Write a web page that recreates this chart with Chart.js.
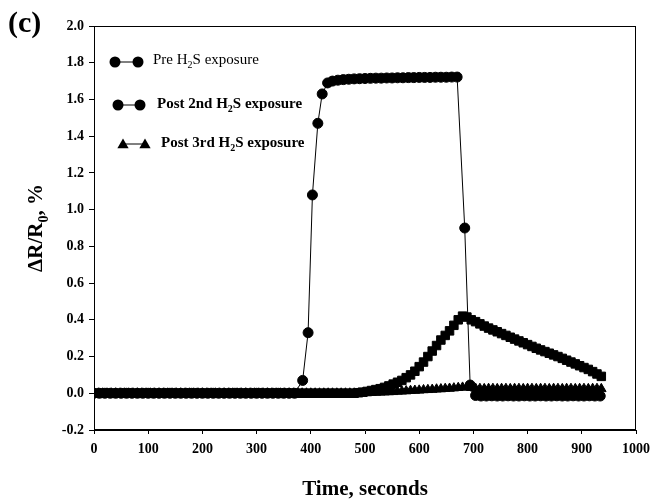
<!DOCTYPE html>
<html>
<head>
<meta charset="utf-8">
<script src="https://cdn.jsdelivr.net/npm/chart.js@4.4.1/dist/chart.umd.min.js"></script>
<style>
  html, body { margin: 0; padding: 0; background: #fff; }
  #wrap { width: 651px; height: 501px; }
</style>
</head>
<body>
<div id="wrap"><canvas id="h2s_chart"></canvas></div>
<script>
// Pre H2S exposure (circles)
const pre_time = [
  0, 10, 20, 30, 40, 50, 60, 70, 80, 90,
  100, 110, 120, 130, 140, 150, 160, 170, 180, 190,
  200, 210, 220, 230, 240, 250, 260, 270, 280, 290,
  300, 310, 320, 330, 340, 350, 360, 370,
  385, 395, 403, 413, 421, 431,
  440, 450, 460, 470, 480, 490, 500, 510, 520, 530,
  540, 550, 560, 570, 580, 590, 600, 610, 620, 630,
  640, 650, 660, 670,
  684, 694,
  704, 714, 724, 734, 744, 754, 764, 774, 784, 794,
  804, 814, 824, 834, 844, 854, 864, 874, 884, 894,
  904, 914, 924, 934
];
const pre_values = [
  0, 0, 0, 0, 0, 0, 0, 0, 0, 0,
  0, 0, 0, 0, 0, 0, 0, 0, 0, 0,
  0, 0, 0, 0, 0, 0, 0, 0, 0, 0,
  0, 0, 0, 0, 0, 0, 0, 0,
  0.07, 0.33, 1.08, 1.47, 1.63, 1.69,
  1.70, 1.705, 1.708, 1.71, 1.712, 1.713, 1.714, 1.715, 1.716, 1.716,
  1.717, 1.717, 1.718, 1.718, 1.719, 1.719, 1.72, 1.72, 1.72, 1.721,
  1.721, 1.721, 1.722, 1.722,
  0.90, 0.045,
  -0.012, -0.015, -0.015, -0.014, -0.015, -0.015, -0.014, -0.015, -0.015, -0.014,
  -0.015, -0.015, -0.014, -0.015, -0.015, -0.014, -0.015, -0.015, -0.014, -0.015,
  -0.015, -0.014, -0.015, -0.015
];

// Post 2nd and Post 3rd exposures share the same sampling
const post_time = [
  0, 8, 16, 24, 32, 40, 48, 56, 64, 72,
  80, 88, 96, 104, 112, 120, 128, 136, 144, 152,
  160, 168, 176, 184, 192, 200, 208, 216, 224, 232,
  240, 248, 256, 264, 272, 280, 288, 296, 304, 312,
  320, 328, 336, 344, 352, 360, 368, 376, 384, 392,
  400, 408, 416, 424, 432, 440, 448, 456, 464, 472,
  480,
  488, 496, 504, 512, 520, 528, 536, 544, 552, 560,
  568, 576, 584, 592, 600, 608, 616, 624, 632, 640,
  648, 656, 664, 672, 680, 688, 696, 704, 712, 720,
  728, 736, 744, 752, 760, 768, 776, 784, 792, 800,
  808, 816, 824, 832, 840, 848, 856, 864, 872, 880,
  888, 896, 904, 912, 920, 928, 936
];
const post2_values = [
  0, 0, 0, 0, 0, 0, 0, 0, 0, 0,
  0, 0, 0, 0, 0, 0, 0, 0, 0, 0,
  0, 0, 0, 0, 0, 0, 0, 0, 0, 0,
  0, 0, 0, 0, 0, 0, 0, 0, 0, 0,
  0, 0, 0, 0, 0, 0, 0, 0, 0, 0,
  0, 0, 0, 0, 0, 0, 0, 0, 0, 0,
  0,
  0.003, 0.006, 0.01, 0.015, 0.02, 0.025, 0.032, 0.04, 0.05, 0.06,
  0.07, 0.085, 0.1, 0.12, 0.145, 0.17, 0.2, 0.23, 0.26, 0.29,
  0.315, 0.34, 0.37, 0.4, 0.42, 0.415, 0.4, 0.39, 0.378, 0.366,
  0.355, 0.345, 0.335, 0.325, 0.315, 0.305, 0.295, 0.285, 0.275, 0.265,
  0.255, 0.245, 0.236, 0.227, 0.218, 0.209, 0.2, 0.19, 0.18, 0.17,
  0.16, 0.15, 0.14, 0.13, 0.118, 0.105, 0.092
];
const post3_values = [
  0, 0, 0, 0, 0, 0, 0, 0, 0, 0,
  0, 0, 0, 0, 0, 0, 0, 0, 0, 0,
  0, 0, 0, 0, 0, 0, 0, 0, 0, 0,
  0, 0, 0, 0, 0, 0, 0, 0, 0, 0,
  0, 0, 0, 0, 0, 0, 0, 0, 0, 0,
  0, 0, 0, 0, 0, 0, 0, 0, 0, 0,
  0,
  0, 0, 0.002, 0.003, 0.004, 0.005, 0.006, 0.007, 0.008, 0.01,
  0.011, 0.012, 0.014, 0.015, 0.016, 0.018, 0.019, 0.02, 0.022, 0.023,
  0.025, 0.026, 0.028, 0.03, 0.032, 0.034, 0.03, 0.026, 0.025, 0.024,
  0.025, 0.025, 0.024, 0.025, 0.025, 0.024, 0.025, 0.025, 0.024, 0.025,
  0.025, 0.024, 0.025, 0.025, 0.024, 0.025, 0.025, 0.024, 0.025, 0.025,
  0.024, 0.025, 0.025, 0.024, 0.025, 0.025, 0.024
];

const x_ticks = [0, 100, 200, 300, 400, 500, 600, 700, 800, 900, 1000];
const y_ticks = [-0.2, 0.0, 0.2, 0.4, 0.6, 0.8, 1.0, 1.2, 1.4, 1.6, 1.8, 2.0];

const serif = '"Liberation Serif", "Times New Roman", serif';

function pairs(xs, ys) {
  const out = [];
  for (let i = 0; i < xs.length; i++) out.push({ x: xs[i], y: ys[i] });
  return out;
}

function marker(ctx, style, x, y, r) {
  ctx.beginPath();
  if (style === "circle") {
    ctx.arc(x, y, r, 0, Math.PI * 2);
  } else if (style === "triangle") {
    ctx.moveTo(x, y - r);
    ctx.lineTo(x + r * 0.866, y + r * 0.5);
    ctx.lineTo(x - r * 0.866, y + r * 0.5);
    ctx.closePath();
  }
  ctx.fill();
}

// text with an "H2S" style subscript: parts = [[text, isSub], ...]
function subText(ctx, parts, x, y, size, weight) {
  let cx = x;
  parts.forEach((p) => {
    const sz = p[1] ? Math.round(size * 0.68) : size;
    ctx.font = weight + " " + sz + "px " + serif;
    ctx.fillText(p[0], cx, p[1] ? y + size * 0.28 : y);
    cx += ctx.measureText(p[0]).width;
  });
}
function subWidth(ctx, parts, size, weight) {
  let w = 0;
  parts.forEach((p) => {
    const sz = p[1] ? Math.round(size * 0.68) : size;
    ctx.font = weight + " " + sz + "px " + serif;
    w += ctx.measureText(p[0]).width;
  });
  return w;
}

const extras = {
  id: "extras",
  afterDraw(chart) {
    const ctx = chart.ctx;
    const a = chart.chartArea;
    ctx.save();
    ctx.strokeStyle = "#000";
    ctx.lineWidth = 1;
    ctx.strokeRect(a.left + 0.5, a.top + 0.5, a.right - a.left - 1, a.bottom - a.top - 1);

    ctx.fillStyle = "#000";
    ctx.textAlign = "left";
    ctx.textBaseline = "alphabetic";

    // panel label
    ctx.font = "bold 30px " + serif;
    ctx.fillText("(c)", 8, 32);

    // legend
    ctx.lineWidth = 1;
    ctx.beginPath(); ctx.moveTo(115, 62); ctx.lineTo(138, 62); ctx.stroke();
    marker(ctx, "circle", 115, 62, 5.5);
    marker(ctx, "circle", 138, 62, 5.5);
    subText(ctx, [["Pre H", false], ["2", true], ["S exposure", false]], 153, 64, 15, "normal");

    ctx.beginPath(); ctx.moveTo(118, 105); ctx.lineTo(140, 105); ctx.stroke();
    marker(ctx, "circle", 118, 105, 5.5);
    marker(ctx, "circle", 140, 105, 5.5);
    subText(ctx, [["Post 2nd H", false], ["2", true], ["S exposure", false]], 157, 108, 15, "bold");

    ctx.beginPath(); ctx.moveTo(123, 144); ctx.lineTo(145, 144); ctx.stroke();
    marker(ctx, "triangle", 123, 145, 6.5);
    marker(ctx, "triangle", 145, 145, 6.5);
    subText(ctx, [["Post 3rd H", false], ["2", true], ["S exposure", false]], 161, 147, 15, "bold");

    // x title
    ctx.font = "bold 21px " + serif;
    ctx.textAlign = "center";
    ctx.fillText("Time, seconds", (a.left + a.right) / 2, 495);

    // y title, rotated
    ctx.textAlign = "left";
    const yParts = [["\u0394R/R", false], ["0", true], [", %", false]];
    const w = subWidth(ctx, yParts, 21, "bold");
    ctx.translate(42, (a.top + a.bottom) / 2);
    ctx.rotate(-Math.PI / 2);
    subText(ctx, yParts, -w / 2, 0, 21, "bold");
    ctx.restore();
  },
};

Chart.defaults.font.family = serif;
Chart.defaults.font.weight = "bold";
Chart.defaults.font.size = 14;
Chart.defaults.color = "#000";

const h2s_ctx = document.getElementById("h2s_chart");

const h2s_chart = new Chart(h2s_ctx, {
  type: "line",
  data: {
    datasets: [
      {
        label: "Pre H2S exposure",
        data: pairs(pre_time, pre_values),
        borderColor: "#000",
        borderWidth: 1,
        pointStyle: "circle",
        pointRadius: 5,
        pointBackgroundColor: "#000",
        pointBorderColor: "#000",
        pointBorderWidth: 1,
      },
      {
        label: "Post 2nd H2S exposure",
        data: pairs(post_time, post2_values),
        borderColor: "#000",
        borderWidth: 1,
        pointStyle: "rect",
        pointRadius: 6,
        pointBackgroundColor: "#000",
        pointBorderColor: "#000",
        pointBorderWidth: 1,
      },
      {
        label: "Post 3rd H2S exposure",
        data: pairs(post_time, post3_values),
        borderColor: "#000",
        borderWidth: 1,
        pointStyle: "triangle",
        pointRadius: 5.5,
        pointBackgroundColor: "#000",
        pointBorderColor: "#000",
        pointBorderWidth: 1,
      },
    ],
  },
  options: {
    responsive: true,
    maintainAspectRatio: false,
    animation: false,
    events: [],
    layout: { padding: { left: 0, right: 15, top: 26, bottom: 0 } },
    plugins: {
      legend: { display: false },
      tooltip: { enabled: false },
    },
    scales: {
      x: {
        type: "linear",
        min: 0,
        max: 1000,
        afterFit: (s) => { s.height = 71; s.paddingLeft = 0; s.paddingRight = 0; },
        afterBuildTicks: (s) => { s.ticks = x_ticks.map((v) => ({ value: v })); },
        ticks: {
          padding: 7,
          maxRotation: 0,
          callback: (v) => String(v),
        },
        grid: { drawOnChartArea: false, drawTicks: true, tickLength: 4, color: "#000" },
        border: { display: true, color: "#000", width: 1 },
      },
      y: {
        type: "linear",
        min: -0.2,
        max: 2.0,
        afterFit: (s) => { s.width = 94; s.paddingTop = 0; s.paddingBottom = 0; },
        afterBuildTicks: (s) => { s.ticks = y_ticks.map((v) => ({ value: v })); },
        ticks: {
          padding: 5,
          callback: (v) => (Math.abs(v) < 1e-9 ? "0.0" : Number(v).toFixed(1)),
        },
        grid: { drawOnChartArea: false, drawTicks: true, tickLength: 5, color: "#000" },
        border: { display: true, color: "#000", width: 1 },
      },
    },
  },
  plugins: [extras],
});
</script>
</body>
</html>
